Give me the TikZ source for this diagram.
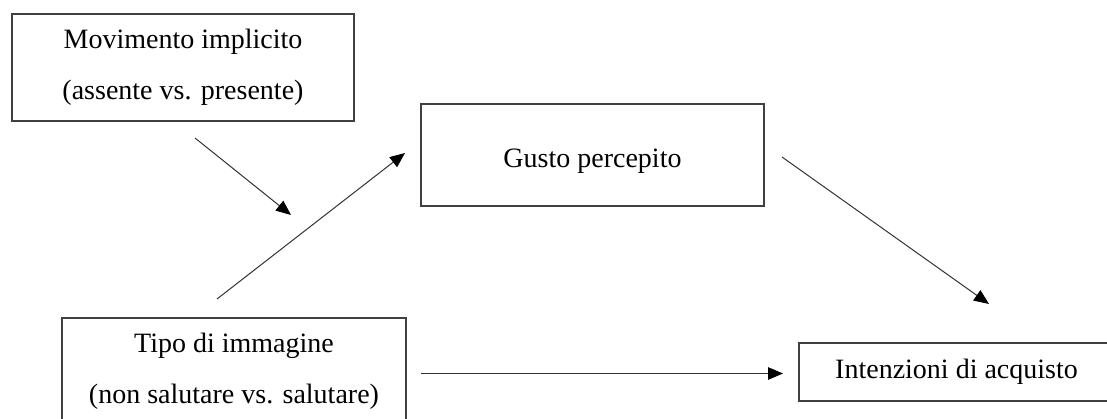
\documentclass[tikz,border=0pt]{standalone}
\usepackage{fontspec}
\setmainfont{Liberation Serif}
\usetikzlibrary{arrows.meta}
\tikzset{
  box/.style={draw=black!75, line width=1.2pt, rectangle, inner sep=0pt, align=center,
    font=\fontsize{28}{51.5}\selectfont},
  conn/.style={draw=black!80, line width=1pt, -{Triangle[length=15pt,width=12.5pt,fill=black,color=black]}},
}
\begin{document}
\begin{tikzpicture}[x=1pt,y=-1pt]
\useasboundingbox (0,0) rectangle (1107,419);
\clip (0,0) rectangle (1107,419);
\node[box, minimum width=342pt, minimum height=107pt] (mov) at (183,67.5)
  {Movimento implicito\\(assente vs. presente)};
\node[box, minimum width=343pt, minimum height=102pt, text height=32pt, text depth=6pt] (gusto) at (592.5,155)
  {Gusto percepito};
\node[box, minimum width=344pt, minimum height=107pt] (tipo) at (234,371.5)
  {Tipo di immagine\\(non salutare vs. salutare)};
\node[box, minimum width=315pt, minimum height=58pt] (intenz) at (956.5,372)
  {Intenzioni di acquisto};
\coordinate (m1s) at (195,138);
\coordinate (m1e) at (291,215);
\coordinate (t1s) at (217,299);
\coordinate (t1e) at (405,153);
\coordinate (g1s) at (782,157);
\coordinate (g1e) at (989,304);
\coordinate (t2s) at (421,373.5);
\coordinate (t2e) at (783,373.5);
\draw[conn] (m1s) -- (m1e);
\draw[conn] (t1s) -- (t1e);
\draw[conn] (g1s) -- (g1e);
\draw[conn] (t2s) -- (t2e);
\end{tikzpicture}
\end{document}
